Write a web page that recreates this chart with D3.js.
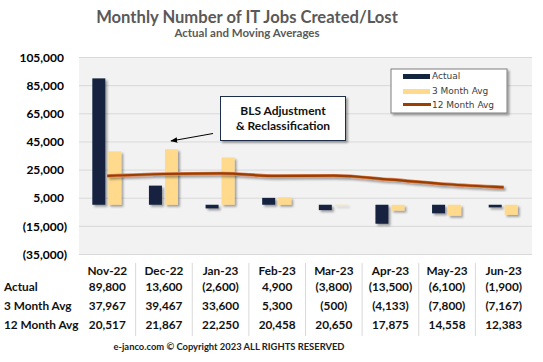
<!DOCTYPE html>
<meta charset="utf-8">
<style>
body { margin: 0; background: #fff; }
text { font-family: Lato, "Open Sans", sans-serif; }
.grid line { stroke: #d9d9d9; stroke-width: 1px; }
.grid path { display: none; }
.axisy text { font-weight: bold; font-size: 12px; fill: #000; }
.axisy path, .axisy line { display: none; }
.tbl text { font-weight: bold; font-size: 11.8px; fill: #111; }
.legend text { font-family: "DejaVu Sans", sans-serif; font-size: 9px; fill: #404040; }
</style>
<body>
<script src="https://d3js.org/d3.v7.min.js"></script>
<script>

// the data
var months = ["Nov-22", "Dec-22", "Jan-23", "Feb-23", "Mar-23", "Apr-23", "May-23", "Jun-23"];
var actual = [89800, 13600, -2600, 4900, -3800, -13500, -6100, -1900];
var avg3 = [37967, 39467, 33600, 5300, -500, -4133, -7800, -7167];
var avg12 = [20517, 21867, 22250, 20458, 20650, 17875, 14558, 12383];
var yTicks = [-35000, -15000, 5000, 25000, 45000, 65000, 85000, 105000];
var rowNames = ["Actual", "3 Month Avg", "12 Month Avg"];

var W = 543, H = 362;
var plot = {left: 79, right: 532, top: 57, bottom: 254};

var svg = d3.select("body").append("svg")
    .attr("width", W)
    .attr("height", H);

// shadow filter
var defs = svg.append("defs");
var f = defs.append("filter").attr("id", "shadow")
    .attr("x", "-30%").attr("y", "-30%").attr("width", "160%").attr("height", "160%");
f.append("feDropShadow")
    .attr("dx", 2).attr("dy", 2).attr("stdDeviation", 1.3)
    .attr("flood-color", "#000").attr("flood-opacity", 0.35);

defs.append("marker").attr("id", "arrow")
    .attr("viewBox", "0 0 10 10").attr("refX", 9).attr("refY", 5)
    .attr("markerWidth", 7).attr("markerHeight", 7)
    .attr("orient", "auto-start-reverse")
  .append("path").attr("d", "M0,1 L10,5 L0,9 z").attr("fill", "#000");

var fmt = d3.format(",");
function acct(v) { return v < 0 ? "(" + fmt(-v) + ")" : fmt(v); }

var x = d3.scaleBand()
    .domain(months)
    .range([plot.left, plot.right]);

var y = d3.scaleLinear()
    .domain([-35000, 105000])
    .range([plot.bottom, plot.top]);

// plot background
svg.append("rect")
    .attr("x", plot.left).attr("y", plot.top)
    .attr("width", plot.right - plot.left).attr("height", plot.bottom - plot.top)
    .attr("fill", "#f2f2f2");

// gridlines
svg.append("g")
    .attr("class", "grid")
    .attr("transform", "translate(" + plot.left + ",0)")
    .call(d3.axisRight(y).tickValues(yTicks).tickSize(plot.right - plot.left).tickFormat(""));

// y axis labels
svg.append("g")
    .attr("class", "axisy")
    .attr("transform", "translate(" + plot.left + ",0)")
    .call(d3.axisLeft(y).tickValues(yTicks).tickSize(0).tickPadding(15).tickFormat(acct))
    .selectAll("text")
    .attr("dx", function(d) { return d < 0 ? 3 : 0; })
    .attr("dy", "0.35em");

// title
svg.append("text")
    .attr("x", 247).attr("y", 23)
    .attr("text-anchor", "middle")
    .style("font-size", "16.6px").style("font-weight", "bold").style("fill", "#595959")
    .text("Monthly Number of IT Jobs Created/Lost");

svg.append("text")
    .attr("x", 247).attr("y", 37)
    .attr("text-anchor", "middle")
    .style("font-size", "11.5px").style("font-weight", "bold").style("fill", "#595959")
    .text("Actual and Moving Averages");

// bars
var bw = 13;
svg.append("g").attr("filter", "url(#shadow)")
  .selectAll("rect")
    .data(actual)
    .enter().append("rect")
    .attr("x", function(d, i) { return x(months[i]) + x.bandwidth() / 2 - bw - 2; })
    .attr("y", function(d) { return y(Math.max(0, d)); })
    .attr("width", bw)
    .attr("height", function(d) { return Math.abs(y(d) - y(0)); })
    .attr("fill", "#13243f");

svg.append("g").attr("filter", "url(#shadow)")
  .selectAll("rect")
    .data(avg3)
    .enter().append("rect")
    .attr("x", function(d, i) { return x(months[i]) + x.bandwidth() / 2 + 1; })
    .attr("y", function(d) { return y(Math.max(0, d)); })
    .attr("width", bw)
    .attr("height", function(d) { return Math.abs(y(d) - y(0)); })
    .attr("fill", "#ffd98c");

// 12 month avg line
var line = d3.line()
    .x(function(d, i) { return x(months[i]) + x.bandwidth() / 2; })
    .y(function(d) { return y(d); })
    .curve(d3.curveMonotoneX);

svg.append("path")
    .datum(avg12)
    .attr("filter", "url(#shadow)")
    .attr("fill", "none")
    .attr("stroke", "#d9825a")
    .attr("stroke-width", 3.5)
    .attr("d", line);
svg.append("path")
    .datum(avg12)
    .attr("fill", "none")
    .attr("stroke", "#9a3f00")
    .attr("stroke-width", 2.2)
    .attr("d", line);

// legend
var lg = svg.append("g").attr("class", "legend");
lg.append("rect")
    .attr("x", 391).attr("y", 69).attr("width", 116).attr("height", 44)
    .attr("fill", "#fff").attr("stroke", "#7f7f7f").attr("filter", "url(#shadow)");
lg.append("rect").attr("x", 403).attr("y", 74).attr("width", 27).attr("height", 5).attr("fill", "#13243f");
lg.append("rect").attr("x", 403).attr("y", 89).attr("width", 27).attr("height", 5).attr("fill", "#ffd98c");
lg.append("line").attr("x1", 403).attr("x2", 431).attr("y1", 104.5).attr("y2", 104.5)
    .attr("stroke", "#9a3f00").attr("stroke-width", 3);
lg.selectAll("text.lab")
    .data(rowNames)
    .enter().append("text")
    .attr("x", 432)
    .attr("y", function(d, i) { return 79 + i * 14.5; })
    .text(function(d) { return d; });

// annotation
svg.append("line")
    .attr("x1", 213).attr("y1", 133.5).attr("x2", 171).attr("y2", 141)
    .attr("stroke", "#000").attr("stroke-width", 1)
    .attr("marker-end", "url(#arrow)");
svg.append("rect")
    .attr("x", 220.5).attr("y", 96.5).attr("width", 125).attr("height", 44)
    .attr("fill", "#fff").attr("stroke", "#1f2d4a").attr("filter", "url(#shadow)");
svg.append("text")
    .attr("x", 283).attr("y", 115)
    .attr("text-anchor", "middle")
    .style("font-size", "12px").style("font-weight", "bold").style("fill", "#111")
    .text("BLS Adjustment");
svg.append("text")
    .attr("x", 283).attr("y", 130)
    .attr("text-anchor", "middle")
    .style("font-size", "12px").style("font-weight", "bold").style("fill", "#111")
    .text("& Reclassification");

// data table
var tbl = svg.append("g").attr("class", "tbl");
tbl.selectAll("line.sep")
    .data(months.slice(1))
    .enter().append("line")
    .attr("x1", function(d) { return x(d); })
    .attr("x2", function(d) { return x(d); })
    .attr("y1", 263).attr("y2", 336)
    .attr("stroke", "#d9d9d9");

tbl.selectAll("text.mon")
    .data(months)
    .enter().append("text")
    .attr("x", function(d) { return x(d) + x.bandwidth() / 2; })
    .attr("y", 275)
    .attr("text-anchor", "middle")
    .text(function(d) { return d; });

var rows = [actual, avg3, avg12];
var rowY = [291, 310, 329];
rows.forEach(function(r, k) {
  tbl.append("text").attr("x", 4).attr("y", rowY[k]).text(rowNames[k]);
  tbl.selectAll("text.r" + k)
      .data(r)
      .enter().append("text")
      .attr("x", function(d, i) { return x(months[i]) + x.bandwidth() / 2; })
      .attr("y", rowY[k])
      .attr("text-anchor", "middle")
      .text(acct);
});

svg.append("text")
    .attr("x", 229).attr("y", 350)
    .attr("text-anchor", "middle")
    .style("font-size", "9.4px").style("font-weight", "bold").style("fill", "#222")
    .text("e-janco.com \u00a9 Copyright 2023 ALL RIGHTS RESERVED");

</script>
</body>
